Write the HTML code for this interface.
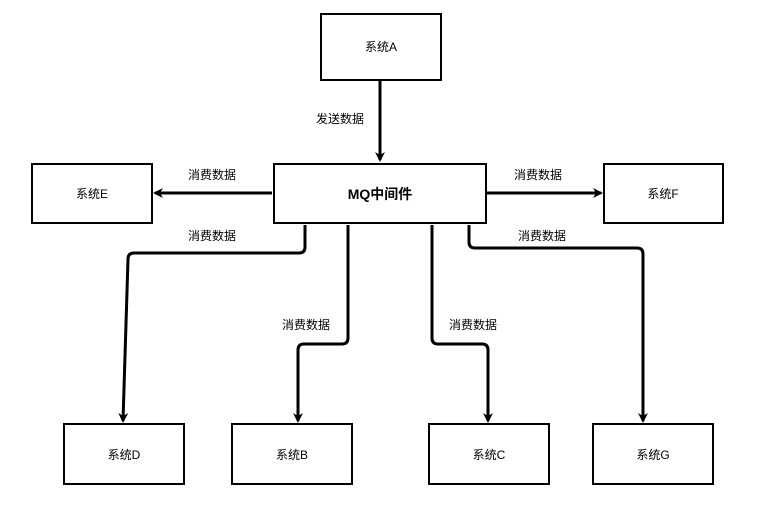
<!DOCTYPE html>
<html><head><meta charset="utf-8"><style>
body{margin:0;background:#fff;}
svg text{font-family:"Liberation Sans","Noto Sans CJK SC",sans-serif;font-size:12px;fill:#000;}
</style></head><body>
<svg width="763" height="518" viewBox="0 0 763 518" xmlns="http://www.w3.org/2000/svg">
<defs><marker id="a" markerWidth="10" markerHeight="10" refX="8" refY="5" orient="auto" markerUnits="userSpaceOnUse"><path d="M0,0 L10,5 L0,10 L3,5 Z" fill="#000"/></marker></defs>
<g fill="#fff" stroke="#000" stroke-width="2">
<rect x="321" y="14" width="120" height="66"/>
<rect x="274" y="164" width="212" height="59"/>
<rect x="32" y="164" width="120" height="59"/>
<rect x="604" y="164" width="119" height="59"/>
<rect x="64" y="424" width="120" height="60"/>
<rect x="232" y="424" width="120" height="60"/>
<rect x="429" y="424" width="120" height="60"/>
<rect x="593" y="424" width="120" height="60"/>
</g>
<g fill="none" stroke="#000" stroke-width="3" marker-end="url(#a)">
<path d="M380,80 V160"/>
<path d="M272,193 H155"/>
<path d="M487,193 H601"/>
<path d="M305,225 V247 Q305,253 299,253 H134 Q128,253 128,259 L123,421"/>
<path d="M348,225 V338 Q348,344 342,344 H304 Q298,344 298,350 V421"/>
<path d="M432,225 V338 Q432,344 438,344 H482 Q488,344 488,350 V421"/>
<path d="M469,225 V242 Q469,248 475,248 H637 Q643,248 643,254 V421"/>
</g>
<text x="381" y="51" text-anchor="middle">系统A</text>
<text x="380" y="199" text-anchor="middle" style="font-weight:bold;font-size:14px">MQ中间件</text>
<text x="92" y="198" text-anchor="middle">系统E</text>
<text x="663" y="198" text-anchor="middle">系统F</text>
<text x="124" y="459" text-anchor="middle">系统D</text>
<text x="292" y="459" text-anchor="middle">系统B</text>
<text x="489" y="459" text-anchor="middle">系统C</text>
<text x="653" y="459" text-anchor="middle">系统G</text>
<text x="340" y="123" text-anchor="middle">发送数据</text>
<text x="212" y="179" text-anchor="middle">消费数据</text>
<text x="538" y="179" text-anchor="middle">消费数据</text>
<text x="212" y="240" text-anchor="middle">消费数据</text>
<text x="542" y="240" text-anchor="middle">消费数据</text>
<text x="306" y="329" text-anchor="middle">消费数据</text>
<text x="473" y="329" text-anchor="middle">消费数据</text>
</svg>
</body></html>
